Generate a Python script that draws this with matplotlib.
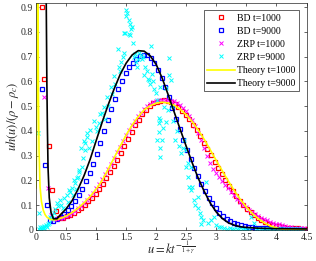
import numpy as np
import matplotlib
matplotlib.use('Agg')
import matplotlib.pyplot as plt

plt.rcParams['font.family'] = ['Liberation Serif', 'DejaVu Serif']
plt.rcParams['mathtext.fontset'] = 'stix'

# Theory curves
th1000_u = [0.0, 0.008, 0.014, 0.018, 0.022, 0.03, 0.035, 0.04, 0.05, 0.067, 0.09, 0.12, 0.15, 0.18,
            0.22, 0.27, 0.32, 0.4, 0.5, 0.6, 0.7, 0.8, 0.9, 1.0, 1.1, 1.2, 1.3, 1.4, 1.5, 1.6,
            1.7, 1.8, 1.9, 2.0, 2.1, 2.2, 2.3, 2.4, 2.5, 2.6, 2.7, 2.8, 2.9, 3.0, 3.1, 3.2,
            3.3, 3.4, 3.5, 3.6, 3.7, 3.8, 3.9, 4.0, 4.1, 4.2, 4.5]
th1000_v = [0.17, 0.3, 0.6, 0.95, 3.0, 1.5, 0.92, 0.55, 0.32, 0.174, 0.115, 0.08, 0.062, 0.052,
            0.045, 0.041, 0.041, 0.046, 0.056, 0.07, 0.088, 0.11, 0.135, 0.165, 0.2, 0.245, 0.292, 0.338, 0.384, 0.424,
            0.458, 0.485, 0.502, 0.512, 0.516, 0.513, 0.503, 0.487, 0.465, 0.437, 0.403, 0.365, 0.323, 0.28, 0.238, 0.197,
            0.158, 0.123, 0.092, 0.066, 0.045, 0.028, 0.016, 0.008, 0.003, 0.001, 0.0]

th9000_u = [0.165, 0.17, 0.18, 0.19, 0.2, 0.22, 0.25, 0.29, 0.35, 0.4, 0.5, 0.6, 0.7, 0.8, 0.9, 1.0,
            1.1, 1.2, 1.3, 1.4, 1.5, 1.6, 1.7, 1.8, 1.9, 2.0, 2.1, 2.2, 2.3, 2.4, 2.5, 2.6,
            2.7, 2.8, 2.9, 3.0, 3.1, 3.2, 3.3, 3.4, 3.5, 3.7, 4.0, 4.5]
th9000_v = [1.2, 0.92, 0.6, 0.4, 0.25, 0.13, 0.07, 0.045, 0.045, 0.06, 0.085, 0.118, 0.165, 0.22, 0.285, 0.36,
            0.435, 0.505, 0.57, 0.628, 0.674, 0.707, 0.724, 0.722, 0.703, 0.668, 0.612, 0.545, 0.475, 0.405, 0.337, 0.27,
            0.208, 0.155, 0.108, 0.072, 0.046, 0.029, 0.019, 0.013, 0.01, 0.007, 0.005, 0.004]

# BD t=1000
bd1000_u = [0.095, 0.14, 0.22, 0.27, 0.33, 0.39, 0.45, 0.51, 0.57, 0.63, 0.69, 0.75, 0.81, 0.87, 0.93,
            0.99, 1.05, 1.11, 1.17, 1.23, 1.29, 1.35, 1.41, 1.47, 1.53, 1.59, 1.65, 1.71, 1.77, 1.83,
            1.89, 1.95, 2.01, 2.07, 2.13, 2.19, 2.25, 2.31, 2.37, 2.43, 2.49, 2.55, 2.61, 2.67, 2.73,
            2.79, 2.85, 2.91, 2.97, 3.03, 3.09, 3.15, 3.21, 3.27, 3.33, 3.39, 3.45, 3.51, 3.57, 3.63,
            3.69, 3.75, 3.81, 3.87, 3.93, 3.99, 4.05, 4.11, 4.17, 4.23, 4.29, 4.35, 4.41, 4.47]
bd1000_v = [0.90, 0.61, 0.34, 0.163, 0.077, 0.048, 0.050, 0.055, 0.062, 0.070, 0.080, 0.090, 0.102, 0.115, 0.130,
            0.147, 0.166, 0.186, 0.208, 0.232, 0.258, 0.284, 0.312, 0.340, 0.368, 0.396, 0.422, 0.445, 0.467, 0.485,
            0.500, 0.511, 0.518, 0.522, 0.523, 0.521, 0.517, 0.508, 0.496, 0.482, 0.465, 0.447, 0.425, 0.402, 0.378,
            0.353, 0.327, 0.301, 0.275, 0.250, 0.225, 0.201, 0.178, 0.156, 0.136, 0.117, 0.100, 0.085, 0.071, 0.059,
            0.049, 0.040, 0.032, 0.026, 0.021, 0.017, 0.014, 0.011, 0.009, 0.008, 0.007, 0.006, 0.005, 0.005]

# BD t=9000
bd9000_u = [0.095, 0.15, 0.18, 0.23, 0.29, 0.35, 0.41, 0.47, 0.53, 0.59, 0.65, 0.71, 0.77, 0.83, 0.89,
            0.95, 1.01, 1.07, 1.13, 1.19, 1.25, 1.31, 1.37, 1.43, 1.49, 1.55, 1.61, 1.67, 1.73, 1.79,
            1.85, 1.91, 1.97, 2.03, 2.09, 2.15, 2.21, 2.27, 2.33, 2.39, 2.45, 2.51, 2.57, 2.63, 2.69,
            2.75, 2.81, 2.87, 2.93, 2.99, 3.05, 3.11, 3.17, 3.23, 3.29, 3.35, 3.41, 3.47, 3.53, 3.59,
            3.65, 3.71, 3.77, 3.83, 3.89, 3.95, 4.01, 4.07, 4.13, 4.19, 4.25, 4.31, 4.37]
bd9000_v = [0.568, 0.262, 0.10, 0.042, 0.038, 0.045, 0.054, 0.066, 0.080, 0.097, 0.117, 0.140, 0.167, 0.197, 0.230,
            0.266, 0.305, 0.350, 0.400, 0.445, 0.490, 0.530, 0.568, 0.603, 0.633, 0.657, 0.676, 0.692, 0.703, 0.708,
            0.705, 0.694, 0.675, 0.648, 0.614, 0.576, 0.536, 0.494, 0.450, 0.406, 0.364, 0.324, 0.286, 0.250, 0.216,
            0.185, 0.156, 0.130, 0.107, 0.087, 0.070, 0.056, 0.044, 0.035, 0.028, 0.022, 0.018, 0.015, 0.012, 0.010,
            0.009, 0.008, 0.007, 0.006, 0.005, 0.005, 0.004, 0.004, 0.003, 0.003, 0.003, 0.003, 0.002]

# ZRP t=1000
zrp1000_u = [0.134, 0.20, 0.25, 0.30, 0.35, 0.40, 0.45, 0.50, 0.55, 0.60, 0.65, 0.70, 0.75, 0.80, 0.85,
             0.90, 0.95, 1.00, 1.05, 1.10, 1.15, 1.20, 1.25, 1.30, 1.35, 1.40, 1.45, 1.50, 1.55, 1.60,
             1.65, 1.70, 1.75, 1.80, 1.85, 1.90, 1.95, 2.00, 2.05, 2.10, 2.15, 2.20, 2.25, 2.30, 2.35,
             2.40, 2.45, 2.50, 2.55, 2.60, 2.65, 2.70, 2.75, 2.80, 2.85, 2.90, 2.95, 3.00, 3.05, 3.10,
             3.15, 3.20, 3.25, 3.30, 3.35, 3.40, 3.45, 3.50, 3.55, 3.60, 3.65, 3.70, 3.75, 3.80, 3.85,
             3.90, 3.95, 4.00, 4.05, 4.10, 4.15, 4.20, 4.25, 4.30, 4.35, 4.40, 4.45, 4.50]
zrp1000_v = [0.538, 0.170, 0.062, 0.045, 0.043, 0.047, 0.050, 0.056, 0.061, 0.069, 0.076, 0.087, 0.097, 0.110, 0.122,
             0.137, 0.151, 0.169, 0.185, 0.204, 0.224, 0.246, 0.267, 0.291, 0.313, 0.337, 0.358, 0.382, 0.402, 0.424,
             0.441, 0.460, 0.474, 0.489, 0.499, 0.509, 0.515, 0.521, 0.523, 0.526, 0.526, 0.525, 0.522, 0.519, 0.511,
             0.503, 0.491, 0.479, 0.462, 0.444, 0.420, 0.393, 0.362, 0.331, 0.298, 0.271, 0.247, 0.229, 0.212, 0.199,
             0.183, 0.169, 0.153, 0.140, 0.125, 0.113, 0.101, 0.091, 0.081, 0.073, 0.064, 0.057, 0.050, 0.045, 0.039,
             0.034, 0.030, 0.026, 0.022, 0.019, 0.016, 0.013, 0.011, 0.009, 0.008, 0.007, 0.006, 0.005]

# ZRP t=9000 (noisy)
zrp9000_u = [0.04, 0.055, 0.05, 0.07, 0.08, 0.10, 0.11, 0.13, 0.14, 0.16, 0.18, 0.20, 0.22, 0.23, 0.26,
             0.27, 0.30, 0.32, 0.35, 0.37, 0.40, 0.42, 0.45, 0.47, 0.51, 0.53, 0.55, 0.57, 0.60, 0.61,
             0.63, 0.65, 0.67, 0.68, 0.70, 0.71, 0.72, 0.74, 0.76, 0.78, 0.80, 0.82, 0.82, 0.84, 0.85,
             0.88, 0.90, 0.93, 0.96, 0.99, 1.02, 1.04, 1.07, 1.10, 1.13, 1.15, 1.18, 1.20, 1.24, 1.26,
             1.29, 1.32, 1.36, 1.38, 1.40, 1.42, 1.44, 1.46, 1.47, 1.48, 1.49, 1.50, 1.52, 1.54, 1.55,
             1.56, 1.57, 1.58, 1.60, 1.62, 1.63, 1.65, 1.66, 1.68, 1.70, 1.72, 1.74, 1.76, 1.78, 1.80,
             1.82, 1.84, 1.86, 1.88, 1.90, 1.92, 1.93, 1.95, 1.97, 1.99, 2.02, 2.02, 2.04, 2.05, 2.05,
             2.06, 2.07, 2.07, 2.07, 2.09, 2.12, 2.13, 2.16, 2.16, 2.19, 2.21, 2.22, 2.24, 2.26, 2.28,
             2.32, 2.35, 2.38, 2.41, 2.44, 2.46, 2.49, 2.49, 2.52, 2.52, 2.55, 2.58, 2.58, 2.60, 2.62,
             2.65, 2.69, 2.69, 2.72, 2.74, 2.74, 2.78, 2.83, 2.86, 2.91, 2.96, 3.00, 3.04, 3.08, 3.13,
             3.18, 3.22, 3.26, 3.30, 3.34, 3.38, 3.42, 3.46, 3.50, 3.54, 3.58, 3.62, 3.66, 3.70, 3.74,
             3.78, 3.82, 3.86, 3.90, 3.94, 3.98, 4.02, 4.06, 4.10, 4.14, 4.18, 4.22, 4.26, 4.30, 4.34,
             4.38, 4.42]
zrp9000_v = [0.39, 0.07, 0.005, 0.010, 0.003, 0.012, 0.006, 0.015, 0.008, 0.018, 0.012, 0.022, 0.030, 0.053, 0.045,
             0.060, 0.070, 0.085, 0.107, 0.095, 0.120, 0.100, 0.087, 0.130, 0.140, 0.113, 0.160, 0.154, 0.168, 0.140,
             0.200, 0.188, 0.167, 0.208, 0.215, 0.242, 0.235, 0.330, 0.255, 0.290, 0.360, 0.323, 0.350, 0.390, 0.377,
             0.330, 0.404, 0.360, 0.440, 0.417, 0.400, 0.431, 0.470, 0.471, 0.498, 0.450, 0.538, 0.500, 0.579, 0.550,
             0.620, 0.590, 0.730, 0.660, 0.640, 0.680, 0.700, 0.716, 0.795, 0.795, 0.889, 0.865, 0.875, 0.849, 0.790,
             0.788, 0.830, 0.810, 0.820, 0.755, 0.700, 0.710, 0.680, 0.660, 0.690, 0.715, 0.707, 0.690, 0.700, 0.626,
             0.660, 0.640, 0.610, 0.606, 0.590, 0.741, 0.630, 0.600, 0.570, 0.552, 0.525, 0.363, 0.430, 0.451, 0.397,
             0.296, 0.579, 0.444, 0.330, 0.363, 0.410, 0.498, 0.437, 0.572, 0.485, 0.626, 0.694, 0.606, 0.500, 0.440,
             0.363, 0.400, 0.340, 0.310, 0.330, 0.363, 0.255, 0.323, 0.215, 0.269, 0.174, 0.255, 0.160, 0.174, 0.120,
             0.100, 0.134, 0.087, 0.070, 0.053, 0.026, 0.040, 0.194, 0.030, 0.039, 0.053, 0.020, 0.010, 0.012, 0.008,
             0.004, 0.006, 0.003, 0.004, 0.002, 0.003, 0.002, 0.003, 0.002, 0.003, 0.053, 0.030, 0.002, 0.003, 0.002,
             0.002, 0.003, 0.002, 0.002, 0.003, 0.002, 0.002, 0.002, 0.003, 0.002, 0.002, 0.002, 0.002, 0.002, 0.002,
             0.002, 0.002]

fig = plt.figure(figsize=(3.16, 2.61), dpi=100)
ax = fig.add_axes([0.114, 0.119, 0.856, 0.868])

ms = 3.3
ax.plot(bd1000_u, bd1000_v, 's', color='#ff0000', mfc='none', ms=ms, mew=0.9, label='BD t=1000')
ax.plot(bd9000_u, bd9000_v, 's', color='#0000ff', mfc='none', ms=ms, mew=0.9, label='BD t=9000')
ax.plot(zrp1000_u, zrp1000_v, 'x', color='#ff00ff', ms=2.8, mew=0.7, label='ZRP t=1000')
ax.plot(zrp9000_u, zrp9000_v, 'x', color='#00ffff', ms=2.8, mew=0.7, label='ZRP t=9000')
ax.plot(th1000_u, th1000_v, '-', color='#ffff00', lw=1.2, label='Theory t=1000')
ax.plot(th9000_u, th9000_v, '-', color='black', lw=1.2, label='Theory t=9000')

ax.set_xlim(0, 4.5)
ax.set_ylim(0, 0.915)
ax.set_xticks(np.arange(0, 4.51, 0.5))
ax.set_xticklabels(['0', '0.5', '1', '1.5', '2', '2.5', '3', '3.5', '4', '4.5'])
ax.set_yticks(np.arange(0, 0.91, 0.1))
ax.set_yticklabels(['0', '0.1', '0.2', '0.3', '0.4', '0.5', '0.6', '0.7', '0.8', '0.9'])
ax.tick_params(direction='in', top=True, right=True, length=2.5, width=0.5,
               labelsize=7, colors='#262626', pad=2)
for s in ax.spines.values():
    s.set_linewidth(0.5)
    s.set_color('#262626')

ax.set_xlabel(r'$u = kt^{-\frac{1}{1+\gamma}}$', fontsize=9, color='#262626', labelpad=-1)
ax.set_ylabel(r'$uh(u)/(\rho-\rho_c)$', fontsize=9, color='#262626', labelpad=0)

leg = ax.legend(loc='upper right', bbox_to_anchor=(0.972, 0.970), borderaxespad=0,
                fontsize=7, handlelength=2.9, handletextpad=0.2, labelspacing=0.42,
                borderpad=0.35, fancybox=False, framealpha=1, edgecolor='#262626')
leg.get_frame().set_linewidth(0.5)

fig.savefig('out.png', dpi=100)
